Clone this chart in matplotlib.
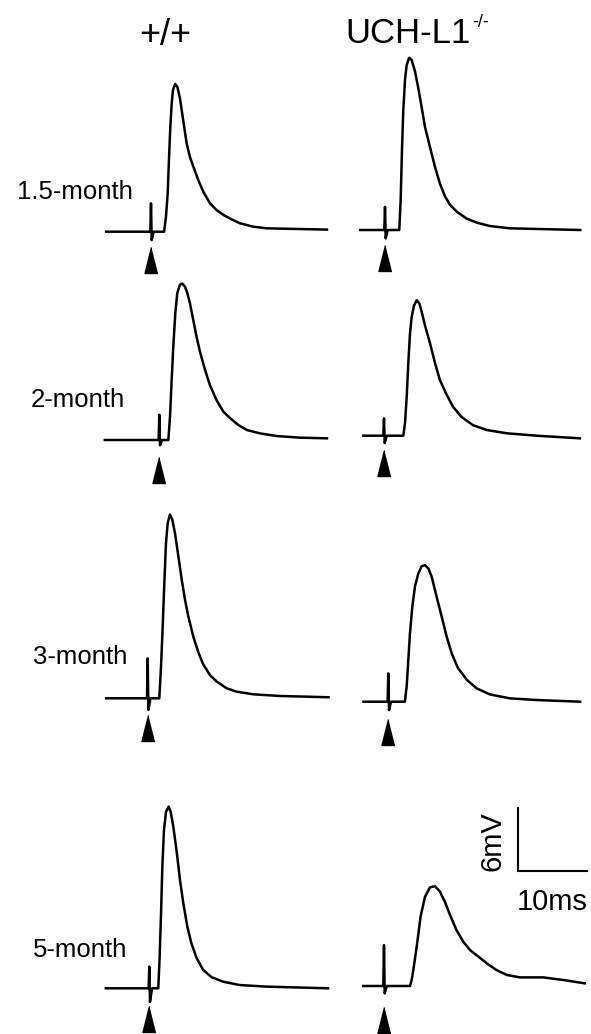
import matplotlib
matplotlib.use("Agg")
import matplotlib.pyplot as plt

plt.rcParams['font.family'] = ['Liberation Sans', 'DejaVu Sans']

# image size and trace scale (pixels per ms / per mV, from the scale bar)
W, H = 591, 1034
PX_MS = 6.9
PX_MV = 10.5

col_titles = ["+/+", "UCH-L1"]
row_labels = ["1.5-month", "2-month", "3-month", "5-month"]

# traces: time from stimulus (ms), voltage above baseline (mV)
t_15m_wt = [-6.5, -0.1, 0, 0.1, 0.4, 1.9, 2.17, 2.42, 2.6, 2.8, 3.0, 3.19, 3.5, 3.82, 4.2, 4.69, 5.17, 5.65,
            6.14, 6.86, 7.59, 8.55, 9.5, 10.5, 11.7, 12.9, 14.8, 16.8, 25.5]
v_15m_wt = [0, 0, 2.7, -0.8, 0, 0, 1.43, 3.65, 6.8, 10.0, 12.2, 13.5, 14.07, 13.8, 12.7, 10.5, 8.4, 7.1,
            6.2, 4.9, 3.8, 2.7, 2.06, 1.6, 1.17, 0.8, 0.48, 0.32, 0.2]
t_15m_ko = [-3.6, -0.1, 0, 0.1, 0.4, 2.07, 2.27, 2.46, 2.65, 2.9, 3.14, 3.5, 3.86, 4.35, 4.83, 5.31, 5.8,
            6.52, 7.25, 7.97, 8.7, 9.42, 10.4, 11.8, 13.3, 15.2, 18.1, 28.3]
v_15m_ko = [0, 0, 2.2, -0.8, 0, 0, 2.86, 7.6, 11.4, 14.3, 15.7, 16.4, 16.2, 15.1, 13.5, 11.7, 9.8,
            7.9, 6.0, 4.4, 3.2, 2.4, 1.75, 1.1, 0.7, 0.38, 0.16, 0]

t_2m_wt = [-7.9, -0.1, 0, 0.1, 0.4, 1.31, 1.55, 1.79, 2.03, 2.32, 2.61, 3.0, 3.33, 3.72, 4.06, 4.45, 4.93,
           5.41, 5.9, 6.62, 7.35, 8.3, 9.28, 10.3, 11.45, 12.7, 14.6, 17.0, 20.4, 24.3]
v_2m_wt = [0, 0, 2.4, -0.5, 0, 0, 2.2, 5.7, 8.9, 12.1, 14.0, 14.8, 14.9, 14.6, 14.0, 13.0, 11.4,
           9.8, 8.4, 6.7, 5.2, 3.8, 2.7, 2.06, 1.43, 0.95, 0.63, 0.38, 0.22, 0.16]
t_2m_ko = [-3.0, -0.1, 0, 0.1, 0.4, 2.8, 3.04, 3.29, 3.52, 3.77, 4.01, 4.35, 4.74, 5.12, 5.46, 5.94, 6.67,
           7.4, 8.1, 9.08, 10.0, 11.2, 12.9, 14.9, 17.8, 22.1, 28.4]
v_2m_ko = [0, 0, 1.65, -0.7, 0, 0, 1.18, 3.7, 6.9, 9.75, 11.3, 12.4, 12.9, 12.6, 11.8, 10.5, 8.8,
           6.9, 5.3, 3.9, 2.76, 1.8, 1.0, 0.54, 0.23, 0, -0.25]

t_3m_wt = [-6.0, -0.1, 0, 0.1, 0.4, 1.68, 1.93, 2.17, 2.41, 2.65, 2.9, 3.23, 3.57, 3.96, 4.45, 4.93, 5.4,
           5.89, 6.6, 7.33, 8.0, 9.03, 10.0, 11.45, 12.9, 15.3, 19.2, 26.2]
v_3m_wt = [0, 0, 3.8, -1.1, 0, 0, 3.0, 6.8, 11.0, 14.8, 16.7, 17.5, 17.0, 15.7, 13.5, 11.3, 9.4,
           7.8, 5.9, 4.4, 3.3, 2.2, 1.6, 0.95, 0.63, 0.38, 0.22, 0.1]
t_3m_ko = [-3.6, -0.1, 0, 0.1, 0.4, 2.4, 2.66, 2.9, 3.14, 3.48, 3.87, 4.35, 4.83, 5.3, 5.8, 6.29, 7.0,
           7.74, 8.46, 9.19, 10.1, 11.4, 12.8, 14.7, 17.6, 21.5, 27.8]
v_3m_ko = [0, 0, 2.7, -0.8, 0, 0, 1.43, 3.97, 6.5, 9.05, 11.0, 12.2, 12.9, 13.0, 12.7, 11.9, 10.0,
           8.1, 6.2, 4.6, 3.2, 2.07, 1.27, 0.7, 0.32, 0.16, 0]

t_5m_wt = [-6.3, -0.1, 0, 0.1, 0.4, 1.3, 1.5, 1.7, 1.89, 2.13, 2.42, 2.8, 3.1, 3.48, 4.0, 4.45, 4.93,
           5.51, 6.1, 6.87, 7.8, 9.04, 10.7, 13.1, 17.0, 25.9]
v_5m_wt = [0, 0, 2.06, -1.3, 0, 0, 3.0, 7.1, 11.6, 15.1, 16.8, 17.3, 16.8, 15.4, 12.86, 10.3, 8.1,
           5.87, 4.29, 2.86, 1.75, 1.05, 0.63, 0.31, 0.16, 0]
t_5m_ko = [-3.0, -0.1, 0, 0.1, 0.4, 3.77, 4.01, 4.25, 4.74, 5.3, 5.94, 6.67, 7.4, 8.1, 8.84, 9.57, 10.5,
           11.5, 12.5, 13.7, 14.9, 16.3, 17.8, 19.7, 23.1, 26.0, 29.1]
v_5m_ko = [0, 0, 3.9, -0.7, 0, 0, 0.57, 1.52, 3.75, 6.6, 8.5, 9.4, 9.5, 9.0, 8.0, 6.76, 5.33,
           4.2, 3.4, 2.79, 2.16, 1.52, 1.05, 0.82, 0.82, 0.57, 0.25]

traces = [
    [(t_15m_wt, v_15m_wt), (t_15m_ko, v_15m_ko)],
    [(t_2m_wt, v_2m_wt), (t_2m_ko, v_2m_ko)],
    [(t_3m_wt, v_3m_wt), (t_3m_ko, v_3m_ko)],
    [(t_5m_wt, v_5m_wt), (t_5m_ko, v_5m_ko)],
]

scale_ms = 10
scale_mv = 6

# layout: pixel position of (stimulus, baseline) for each panel, arrow gap below baseline
origins = [
    [(151, 231.7), (385, 230)],
    [(159.3, 440), (384, 435.7)],
    [(147.7, 698.3), (388.3, 701.7)],
    [(149.3, 988.3), (384, 986)],
]
arrow_gap = [[15, 15], [17, 14], [17, 17], [18, 21]]
label_right = [133, 125, 127, 127]
label_y = [191.7, 400, 657, 950]

XLIM = (-8, 31)
YLIM = (-5, 19)


def panel_axes(fig, x0, y0):
    # axes whose data point (0, 0) lands at pixel (x0, y0)
    left = x0 + XLIM[0] * PX_MS
    top = y0 - YLIM[1] * PX_MV
    w = (XLIM[1] - XLIM[0]) * PX_MS
    h = (YLIM[1] - YLIM[0]) * PX_MV
    ax = fig.add_axes([left / W, 1 - (top + h) / H, w / W, h / H])
    ax.set_xlim(*XLIM)
    ax.set_ylim(*YLIM)
    ax.axis('off')
    ax.patch.set_alpha(0)
    return ax


fig = plt.figure(figsize=(W / 100, H / 100), dpi=100)

arrow_marker = [(0, 1), (-0.5, -1), (0.5, -1)]
for r in range(4):
    for c in range(2):
        t, v = traces[r][c]
        x0, y0 = origins[r][c]
        ax = panel_axes(fig, x0, y0)
        ax.plot(t, v, color='black', lw=1.8, solid_joinstyle='round', clip_on=False)
        ay = -(arrow_gap[r][c] + 13) / PX_MV
        ax.plot([0], [ay], marker=arrow_marker, markersize=18.7, color='black',
                linestyle='none', clip_on=False)

# scale bar
sax = panel_axes(fig, 518, 871)
sax.plot([0, 0, scale_ms], [scale_mv, 0, 0], color='black', lw=1.5,
         solid_joinstyle='miter', clip_on=False)

fig.text(492 / W, 1 - 841 / H, f"{scale_mv}mV", rotation=90, ha='center', va='center', fontsize=21)
fig.text(517 / W, 1 - 910 / H, f"{scale_ms}ms", ha='left', va='baseline', fontsize=21)

# column titles
fig.text(165 / W, 1 - 45 / H, col_titles[0], ha='center', va='baseline', fontsize=26)
fig.text(345 / W, 1 - 43 / H, col_titles[1], ha='left', va='baseline', fontsize=25)
fig.text(472 / W, 1 - 27 / H, "-/-", ha='left', va='baseline', fontsize=13)

# row labels
for lab, xr, yc in zip(row_labels, label_right, label_y):
    fig.text(xr / W, 1 - yc / H, lab, ha='right', va='center', fontsize=18.5)

fig.savefig("out.png", dpi=100)
